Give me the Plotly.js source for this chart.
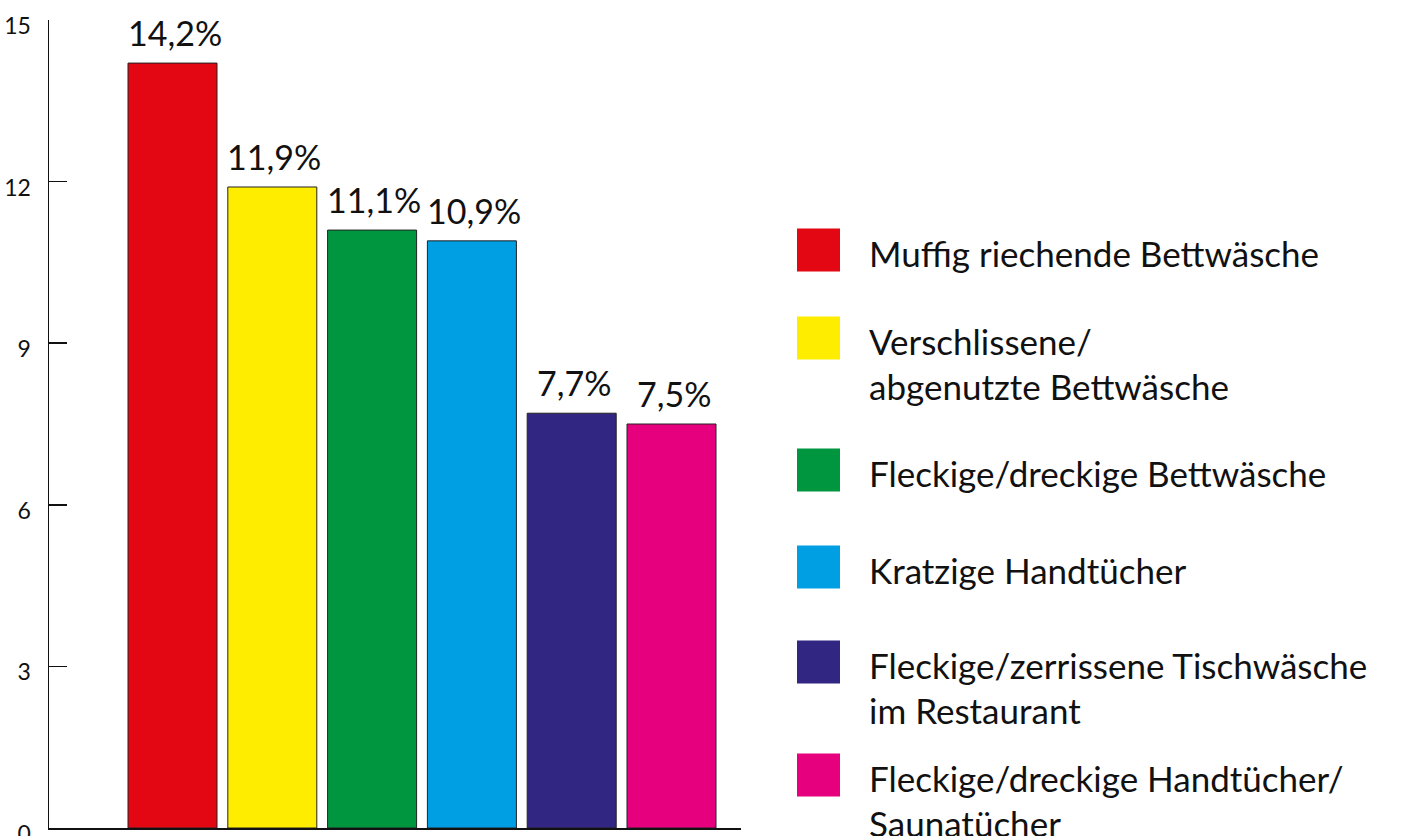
<!DOCTYPE html>
<html><head><meta charset="utf-8">
<script src="https://cdn.plot.ly/plotly-3.0.1.min.js"></script>
<style>html,body{margin:0;padding:0;background:#fff}#chart{width:1411px;height:836px}</style>
</head><body><div id="chart"></div>
<script>
// ---- data ----
var categories = [
  "Muffig riechende Bettwäsche",
  "Verschlissene/\nabgenutzte Bettwäsche",
  "Fleckige/dreckige Bettwäsche",
  "Kratzige Handtücher",
  "Fleckige/zerrissene Tischwäsche\nim Restaurant",
  "Fleckige/dreckige Handtücher/\nSaunatücher"
];
var values = [14.2, 11.9, 11.1, 10.9, 7.7, 7.5];
var colors = ["#E30613", "#FFED00", "#009640", "#009FE3", "#312783", "#E6007E"];
var yTicks = [0, 3, 6, 9, 12, 15];

// ---- layout constants (pixels) ----
var W = 1411, H = 836;
var plotL = 49, plotR = 741, plotT = 20, plotB = 828;
var legendSquareY = [250, 338, 470, 567, 662, 775]; // centers of legend squares
var legendSqX0 = 797, legendSqSize = 43, legendTextX = 870, legendLineH = 45;

function px2paperX(p){ return (p - plotL) / (plotR - plotL); }
function px2paperY(p){ return (plotB - p) / (plotB - plotT); }

var font = "Lato, 'DejaVu Sans', sans-serif";
var idx = values.map(function(_, i){ return i; });

var trace = {
  type: "bar",
  x: idx,
  y: values,
  marker: { color: colors, line: { color: "#222", width: 1 } },
  hoverinfo: "none",
  showlegend: false
};

var annotations = [];
values.forEach(function(v, i){
  annotations.push({
    x: i, y: v, xref: "x", yref: "y",
    text: v.toFixed(1).replace(".", ",") + "%",
    showarrow: false, xanchor: "center", yanchor: "bottom", yshift: 8, xshift: 2,
    font: { family: font, size: 34, color: "#111" }
  });
});

var shapes = [];
categories.forEach(function(c, i){
  var cy = legendSquareY[i];
  shapes.push({
    type: "rect", xref: "paper", yref: "paper",
    x0: px2paperX(legendSqX0), x1: px2paperX(legendSqX0 + legendSqSize),
    y0: px2paperY(cy + legendSqSize/2), y1: px2paperY(cy - legendSqSize/2),
    fillcolor: colors[i], line: { width: 0 }
  });
  c.split("\n").forEach(function(line, k){
    annotations.push({
      xref: "paper", yref: "paper",
      x: px2paperX(legendTextX - 3), y: px2paperY(cy + 3 + k * legendLineH),
      text: line, showarrow: false, xanchor: "left", yanchor: "middle",
      font: { family: font, size: 35, color: "#111" }
    });
  });
});

var spacing = 99.8, c0 = 172.5;
var layout = {
  width: W, height: H,
  margin: { l: plotL, r: W - plotR, t: plotT, b: H - plotB, pad: 0 },
  paper_bgcolor: "#fff", plot_bgcolor: "#fff",
  font: { family: font, color: "#111" },
  bargap: 1 - 89 / spacing,
  xaxis: {
    range: [-(c0 - plotL) / spacing, (plotR - c0) / spacing],
    showgrid: false, zeroline: false, showticklabels: false, ticks: "",
    showline: true, linecolor: "#111", linewidth: 1.5, fixedrange: true
  },
  yaxis: {
    range: [0, 15], tickvals: yTicks, ticktext: yTicks.map(String),
    showgrid: false, zeroline: false,
    showline: true, linecolor: "#111", linewidth: 1.5,
    ticks: "inside", ticklen: 18, tickwidth: 1.5, tickcolor: "#111",
    tickfont: { family: font, size: 23, color: "#111" },
    ticklabelstandoff: 12, ticklabelshift: 6, ticklabeloverflow: "allow",
    fixedrange: true
  },
  shapes: shapes,
  annotations: annotations,
  showlegend: false
};

Plotly.newPlot("chart", [trace], layout, { displayModeBar: false, staticPlot: true });
</script>
</body></html>
